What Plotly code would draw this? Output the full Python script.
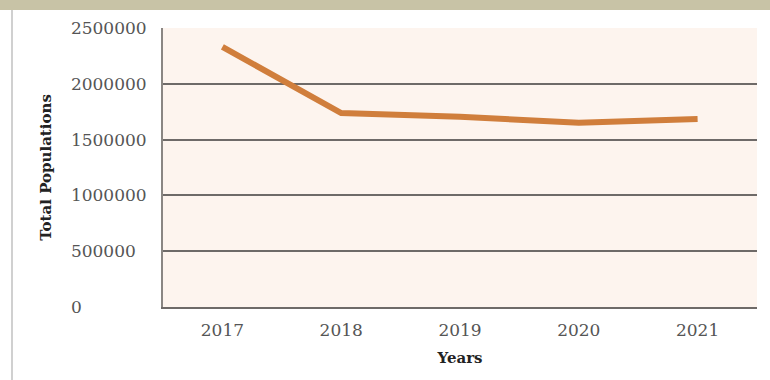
import plotly.graph_objects as go

years = ["2017", "2018", "2019", "2020", "2021"]
population = [2330000, 1738000, 1705000, 1650000, 1685000]
y_ticks = [0, 500000, 1000000, 1500000, 2000000, 2500000]

# Reference labels are left-aligned; pad with figure spaces to equal width
y_ticktext = [str(v) + "\u2007" * (7 - len(str(v))) for v in y_ticks]

fig = go.Figure()
fig.add_trace(go.Scatter(
    x=years, y=population, mode="lines",
    line=dict(color="#D07E3C", width=6),
    hoverinfo="skip", showlegend=False,
))

serif = "DejaVu Serif"
fig.update_layout(
    width=770, height=380,
    margin=dict(l=163, r=13, t=28, b=73),
    paper_bgcolor="white",
    plot_bgcolor="#FDF4EE",
    xaxis=dict(
        type="category", range=[-0.5, 4.5],
        showgrid=False, zeroline=False,
        showline=True, linecolor="#6E6A68", linewidth=2,
        ticks="", tickfont=dict(family=serif, size=17, color="#555"),
        ticklabelstandoff=7,
        title=dict(text="<b>Years</b>", font=dict(family=serif, size=15, color="#222"), standoff=13),
    ),
    yaxis=dict(
        range=[0, 2500000], tickvals=y_ticks,
        ticktext=y_ticktext,
        showgrid=True, gridcolor="#6E6A68", gridwidth=2,
        zeroline=False,
        showline=True, linecolor="#8A8683", linewidth=2,
        ticks="", tickfont=dict(family=serif, size=17, color="#555"),
        ticklabelstandoff=11,
        title=dict(text="<b>Total Populations</b>", font=dict(family=serif, size=15, color="#222"), standoff=16),
    ),
    shapes=[
        dict(type="rect", xref="paper", yref="paper", x0=-163/594, x1=1 + 13/594,
             y0=1 + 18/279, y1=1 + 28/279, fillcolor="#C8C3A6", line=dict(width=0), layer="below"),
        dict(type="line", xref="paper", yref="paper", x0=-151/594, x1=-151/594,
             y0=-73/279, y1=1 + 18/279, line=dict(color="#D0D0D0", width=2)),
    ],
)

fig.write_html("out.html")
